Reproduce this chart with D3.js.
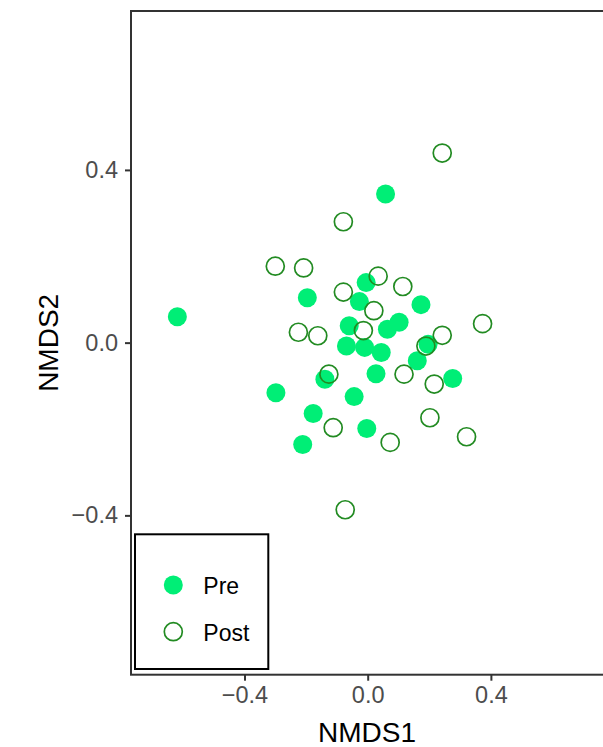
<!DOCTYPE html>
<html>
<head>
<meta charset="utf-8">
<script src="https://cdn.jsdelivr.net/npm/d3@7"></script>
<style>
  html, body { margin: 0; padding: 0; background: #fff; }
  svg { display: block; font-family: "Liberation Sans", Arial, Helvetica, sans-serif; }
</style>
</head>
<body>
<svg id="chart" width="603" height="747"></svg>
<script>
// ---- data ----
const groups = ["Pre", "Post"];

const preNMDS1 = [-0.618, 0.058, -0.196, -0.005, -0.027, 0.173, -0.060, -0.069, -0.010, 0.064, 0.102,
                  0.044, 0.196, 0.161, 0.027, 0.276, -0.298, -0.139, -0.044, -0.177, -0.003, -0.211];
const preNMDS2 = [0.060, 0.344, 0.104, 0.139, 0.095, 0.088, 0.039, -0.008, -0.011, 0.031, 0.047,
                  -0.023, -0.004, -0.042, -0.072, -0.083, -0.116, -0.085, -0.125, -0.164, -0.199, -0.236];

const postNMDS1 = [0.242, -0.079, -0.300, -0.208, 0.034, -0.079, 0.114, 0.020, -0.225, -0.162, -0.014,
                   0.242, 0.373, 0.189, -0.126, 0.118, 0.216, -0.112, 0.202, 0.321, 0.073, -0.073];
const postNMDS2 = [0.439, 0.280, 0.177, 0.173, 0.154, 0.117, 0.130, 0.074, 0.024, 0.016, 0.028,
                   0.017, 0.044, -0.008, -0.073, -0.073, -0.096, -0.197, -0.174, -0.218, -0.231, -0.387];

const xTicks = [-0.4, 0.0, 0.4];
const yTicks = [-0.4, 0.0, 0.4];
const xTitle = "NMDS1";
const yTitle = "NMDS2";

// ---- layout ----
const svg = d3.select("#chart");
const panel = { left: 131, right: 603, top: 11, bottom: 674.7 };

const x = d3.scaleLinear().domain([-0.7685, 0.764]).range([panel.left, panel.right]);
const y = d3.scaleLinear().domain([-0.769, 0.768]).range([panel.bottom, panel.top]);

const fmt = d => (d < 0 ? "\u2212" : "") + Math.abs(d).toFixed(1);

// panel border (left, top, bottom visible)
svg.append("rect")
  .attr("x", panel.left).attr("y", panel.top)
  .attr("width", panel.right - panel.left + 10)
  .attr("height", panel.bottom - panel.top)
  .attr("fill", "none").attr("stroke", "#333333").attr("stroke-width", 2);

// x axis
const xAxis = svg.append("g")
  .attr("transform", `translate(0,${panel.bottom})`)
  .call(d3.axisBottom(x).tickValues(xTicks).tickFormat(fmt).tickSize(6).tickPadding(6));
xAxis.select(".domain").remove();
xAxis.selectAll(".tick line").attr("stroke", "#333333").attr("stroke-width", 2);
xAxis.selectAll(".tick text").attr("fill", "#4D4D4D").attr("font-size", 23.5)
  .attr("font-family", "Liberation Sans, Arial, sans-serif");

// y axis
const yAxis = svg.append("g")
  .attr("transform", `translate(${panel.left},0)`)
  .call(d3.axisLeft(y).tickValues(yTicks).tickFormat(fmt).tickSize(6).tickPadding(7));
yAxis.select(".domain").remove();
yAxis.selectAll(".tick line").attr("stroke", "#333333").attr("stroke-width", 2);
yAxis.selectAll(".tick text").attr("fill", "#4D4D4D").attr("font-size", 23.5)
  .attr("font-family", "Liberation Sans, Arial, sans-serif");

// axis titles
svg.append("text")
  .attr("x", (panel.left + panel.right) / 2).attr("y", 741.5)
  .attr("text-anchor", "middle").attr("font-size", 28).attr("fill", "#000")
  .text(xTitle);
svg.append("text")
  .attr("transform", `translate(57.5,${(panel.top + panel.bottom) / 2}) rotate(-90)`)
  .attr("text-anchor", "middle").attr("font-size", 28).attr("fill", "#000")
  .text(yTitle);

// points
const pre = preNMDS1.map((v, i) => ({ x: v, y: preNMDS2[i] }));
const post = postNMDS1.map((v, i) => ({ x: v, y: postNMDS2[i] }));

const plotG = svg.append("g");
plotG.selectAll("circle.pre").data(pre).join("circle")
  .attr("class", "pre")
  .attr("cx", d => x(d.x)).attr("cy", d => y(d.y))
  .attr("r", 9.5).attr("fill", "#00EE76");
plotG.selectAll("circle.post").data(post).join("circle")
  .attr("class", "post")
  .attr("cx", d => x(d.x)).attr("cy", d => y(d.y))
  .attr("r", 9).attr("fill", "none").attr("stroke", "#228B22").attr("stroke-width", 1.7);

// legend
const lg = svg.append("g");
lg.append("rect")
  .attr("x", 135).attr("y", 534.3).attr("width", 133.3).attr("height", 134.7)
  .attr("fill", "#fff").attr("stroke", "#000").attr("stroke-width", 2);
const legendY = [585, 631.7];
groups.forEach((g, i) => {
  if (g === "Pre") {
    lg.append("circle").attr("cx", 173.3).attr("cy", legendY[i]).attr("r", 9.5).attr("fill", "#00EE76");
  } else {
    lg.append("circle").attr("cx", 173.3).attr("cy", legendY[i]).attr("r", 9)
      .attr("fill", "none").attr("stroke", "#228B22").attr("stroke-width", 1.7);
  }
  lg.append("text").attr("x", 203.3).attr("y", legendY[i] + 9).attr("font-size", 23)
    .attr("fill", "#000").text(g);
});
</script>
</body>
</html>
